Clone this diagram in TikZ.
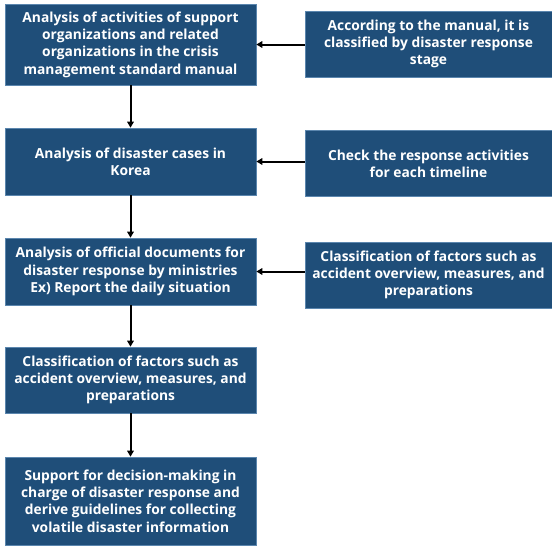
\documentclass[tikz,border=0pt]{standalone}
\usepackage{fontspec}
\setmainfont{Open Sans}
\usetikzlibrary{arrows.meta}
\definecolor{boxblue}{HTML}{1F4E79}
\definecolor{boxedge}{HTML}{5B86AE}
\tikzset{
	flowbox/.style={rectangle, fill=boxblue, draw=boxedge, line width=0.6pt, text=white,
		font=\fontsize{13.8}{17.3}\selectfont\bfseries, align=center, inner sep=0pt},
	leftbox/.style={flowbox, minimum width=251pt},
	rightbox/.style={flowbox, minimum width=247pt, minimum height=66pt},
	arr/.style={line width=2pt, -{Stealth[length=6pt,width=6.5pt,inset=0pt]}}
}
\begin{document}
\begin{tikzpicture}[x=1pt, y=1pt]
		\useasboundingbox (0,0) rectangle (552,-547);
		
		% Main flow on the left
		\node[leftbox, minimum height=81pt] (L1) at (130.5,-44.5) {Analysis of activities of support\\organizations and related\\organizations in the crisis\\management standard manual};
		\node[leftbox, minimum height=67pt] (L2) at (130.5,-161.5) {Analysis of disaster cases in\\Korea};
		\node[leftbox, minimum height=67pt] (L3) at (130.5,-271.5) {Analysis of official documents for\\disaster response by ministries\\Ex) Report the daily situation};
		\node[leftbox, minimum height=66pt] (L4) at (130.5,-380) {Classification of factors such as\\accident overview, measures, and\\preparations};
		\node[leftbox, minimum height=88pt] (L5) at (130.5,-501) {Support for decision-making in\\charge of disaster response and\\derive guidelines for collecting\\volatile disaster information};
		
		% Inputs on the right
		\node[rightbox] (R1) at (428.5,-44) {According to the manual, it is\\classified by disaster response\\stage};
		\node[rightbox] (R2) at (428.5,-163.5) {Check the response activities\\for each timeline};
		\node[rightbox] (R3) at (428.5,-275) {Classification of factors such as\\accident overview, measures, and\\preparations};
		
		% Vertical arrows
		\foreach \a/\b in {L1/L2, L2/L3, L3/L4, L4/L5} {
			\draw[arr] (\a.south) -- (\b.north);
		}
		
		% Horizontal arrows
		\foreach \i in {1,2,3} {
			\draw[arr] (R\i.west |- L\i.east) -- (L\i.east);
		}
	\end{tikzpicture}
\end{document}
